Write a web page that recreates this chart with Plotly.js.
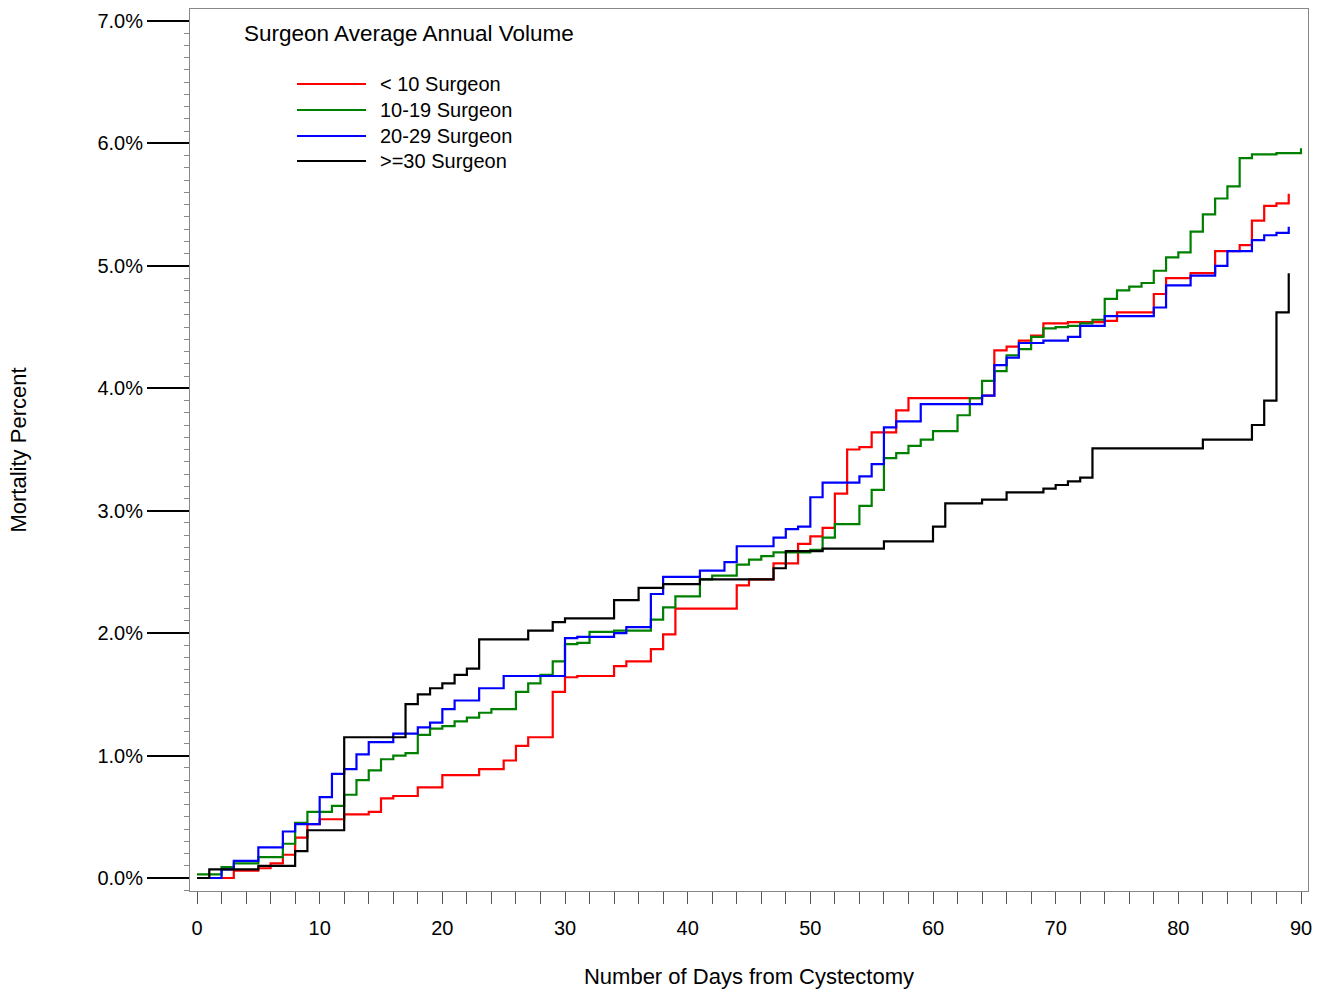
<!DOCTYPE html>
<html>
<head>
<meta charset="utf-8">
<script src="https://cdn.plot.ly/plotly-3.0.1.min.js"></script>
<style>html,body{margin:0;padding:0;background:#fff;}#chart{width:1331px;height:994px;}</style>
</head>
<body>
<div id="chart"></div>
<script>
// Series names
var seriesNames = ["< 10 Surgeon", "10-19 Surgeon", "20-29 Surgeon", ">=30 Surgeon"];
var legendTitle = "Surgeon Average Annual Volume";

// < 10 Surgeon (days, cumulative mortality %)
var redDays = [0,3,5,6,7,8,9,10,12,14,15,16,18,20,23,25,26,27,29,30,31,34,35,37,38,39,44,45,47,49,50,51,52,53,54,55,57,58,64,65,66,67,68,69,71,74,75,78,79,81,83,85,86,87,88,89];
var redPct  = [0,0.06,0.08,0.12,0.19,0.33,0.44,0.48,0.52,0.54,0.65,0.67,0.74,0.84,0.89,0.96,1.08,1.15,1.52,1.64,1.65,1.73,1.77,1.87,1.99,2.20,2.39,2.44,2.57,2.73,2.79,2.86,3.14,3.50,3.52,3.64,3.82,3.92,3.94,4.31,4.34,4.39,4.43,4.53,4.54,4.55,4.62,4.77,4.90,4.94,5.12,5.17,5.37,5.49,5.51,5.59];

// 10-19 Surgeon
var greenDays = [0,2,3,5,7,8,9,11,12,13,14,15,16,17,18,19,20,21,22,23,24,26,27,28,29,30,31,32,34,37,38,39,41,42,44,45,46,47,50,51,52,54,55,56,57,58,59,60,62,63,64,65,66,67,68,69,70,71,72,73,74,75,76,77,78,79,80,81,82,83,84,85,86,88,90];
var greenPct  = [0.03,0.09,0.12,0.17,0.28,0.45,0.54,0.59,0.68,0.80,0.88,0.97,1.00,1.02,1.17,1.22,1.24,1.28,1.31,1.35,1.38,1.52,1.59,1.66,1.77,1.91,1.92,2.01,2.02,2.11,2.21,2.30,2.44,2.47,2.56,2.60,2.63,2.66,2.68,2.78,2.89,3.04,3.17,3.43,3.47,3.53,3.58,3.65,3.78,3.92,4.06,4.14,4.27,4.32,4.42,4.49,4.50,4.51,4.53,4.56,4.73,4.80,4.83,4.86,4.96,5.07,5.11,5.28,5.42,5.55,5.65,5.88,5.91,5.92,5.96];

// 20-29 Surgeon
var blueDays = [0,2,3,5,7,8,10,11,12,13,14,16,18,19,20,21,23,25,30,31,34,35,37,38,41,43,44,47,48,49,50,51,54,55,56,57,59,64,65,66,67,69,71,72,74,78,79,81,83,84,86,87,88,89];
var bluePct  = [0,0.07,0.14,0.25,0.38,0.44,0.66,0.85,0.89,1.01,1.11,1.18,1.23,1.27,1.38,1.45,1.55,1.65,1.96,1.97,2.00,2.05,2.32,2.46,2.51,2.58,2.71,2.78,2.85,2.87,3.11,3.23,3.28,3.38,3.68,3.73,3.87,3.94,4.19,4.25,4.37,4.39,4.42,4.51,4.59,4.66,4.84,4.92,5.00,5.12,5.21,5.25,5.27,5.32];

// >=30 Surgeon
var blackDays = [0,1,5,8,9,12,17,18,19,20,21,22,23,27,29,30,34,36,38,41,47,48,51,56,60,61,64,66,69,70,71,72,73,82,86,87,88,89];
var blackPct  = [0,0.07,0.10,0.22,0.39,1.15,1.42,1.50,1.55,1.59,1.66,1.71,1.95,2.02,2.09,2.12,2.27,2.37,2.40,2.44,2.53,2.67,2.69,2.75,2.87,3.06,3.09,3.15,3.18,3.21,3.24,3.27,3.51,3.58,3.70,3.90,4.62,4.94];

var xTickVals = [0,10,20,30,40,50,60,70,80,90];
var colors = ["#ff0000", "#008000", "#0000ff", "#000000"];

var allDays = [redDays, greenDays, blueDays, blackDays];
var allPct = [redPct, greenPct, bluePct, blackPct];

var FONT = "Arial, 'Liberation Sans', Helvetica, sans-serif";

var traces = [];
for (var i = 0; i < 4; i++) {
  traces.push({
    x: allDays[i], y: allPct[i], name: seriesNames[i],
    type: "scatter", mode: "lines",
    line: {shape: "hv", color: colors[i], width: 2.2},
    showlegend: false, hoverinfo: "x+y+name"
  });
}

// plot area in pixels: left 190, right 1308, top 9, bottom 891
function px2x(px) { return (px - 190) / 1118; }
function py2y(py) { return (891 - py) / 882; }

var annotations = [{
  xref: "paper", yref: "paper", x: px2x(242), y: py2y(33),
  xanchor: "left", yanchor: "middle", showarrow: false,
  text: legendTitle, font: {family: FONT, size: 22.5, color: "#000"}
}];
var shapes = [];
var legendY = [84, 110, 136, 161];
for (var j = 0; j < 4; j++) {
  shapes.push({
    type: "line", xref: "paper", yref: "paper",
    x0: px2x(297), x1: px2x(366), y0: py2y(legendY[j]), y1: py2y(legendY[j]),
    line: {color: colors[j], width: 2}
  });
  annotations.push({
    xref: "paper", yref: "paper", x: px2x(378), y: py2y(legendY[j]),
    xanchor: "left", yanchor: "middle", showarrow: false,
    text: seriesNames[j].replace("<", "&lt;"), font: {family: FONT, size: 20, color: "#000"}
  });
}

var layout = {
  width: 1331, height: 994,
  margin: {l: 190, r: 23, t: 9, b: 103},
  paper_bgcolor: "#fff", plot_bgcolor: "#fff",
  font: {family: FONT, size: 20, color: "#000"},
  showlegend: false,
  xaxis: {
    range: [-0.571, 90.571], tickvals: xTickVals,
    ticks: "outside", ticklen: 12, tickwidth: 1, tickcolor: "#555",
    minor: {dtick: 2, tick0: 0, ticks: "outside", ticklen: 12, tickwidth: 1, tickcolor: "#555"},
    showline: true, linecolor: "#888", linewidth: 1, mirror: true,
    showgrid: false, zeroline: false,
    ticklabelstandoff: 7,
    tickfont: {family: FONT, size: 20, color: "#000"},
    title: {text: "Number of Days from Cystectomy", font: {family: FONT, size: 22, color: "#000"}, standoff: 30}
  },
  yaxis: {
    range: [-0.106, 7.098], dtick: 1, tick0: 0,
    ticksuffix: "%", tickformat: ".1f",
    ticks: "outside", ticklen: 42, tickwidth: 1.5, tickcolor: "#000",
    minor: {dtick: 0.1, tick0: 0, ticks: "outside", ticklen: 5, tickwidth: 1, tickcolor: "#888"},
    showline: true, linecolor: "#888", linewidth: 1, mirror: true,
    showgrid: false, zeroline: false,
    tickfont: {family: FONT, size: 20, color: "#000"},
    title: {text: "Mortality Percent", font: {family: FONT, size: 22, color: "#000"}, standoff: 64}
  },
  annotations: annotations,
  shapes: shapes
};

Plotly.newPlot("chart", traces, layout, {displayModeBar: false});
</script>
</body>
</html>
